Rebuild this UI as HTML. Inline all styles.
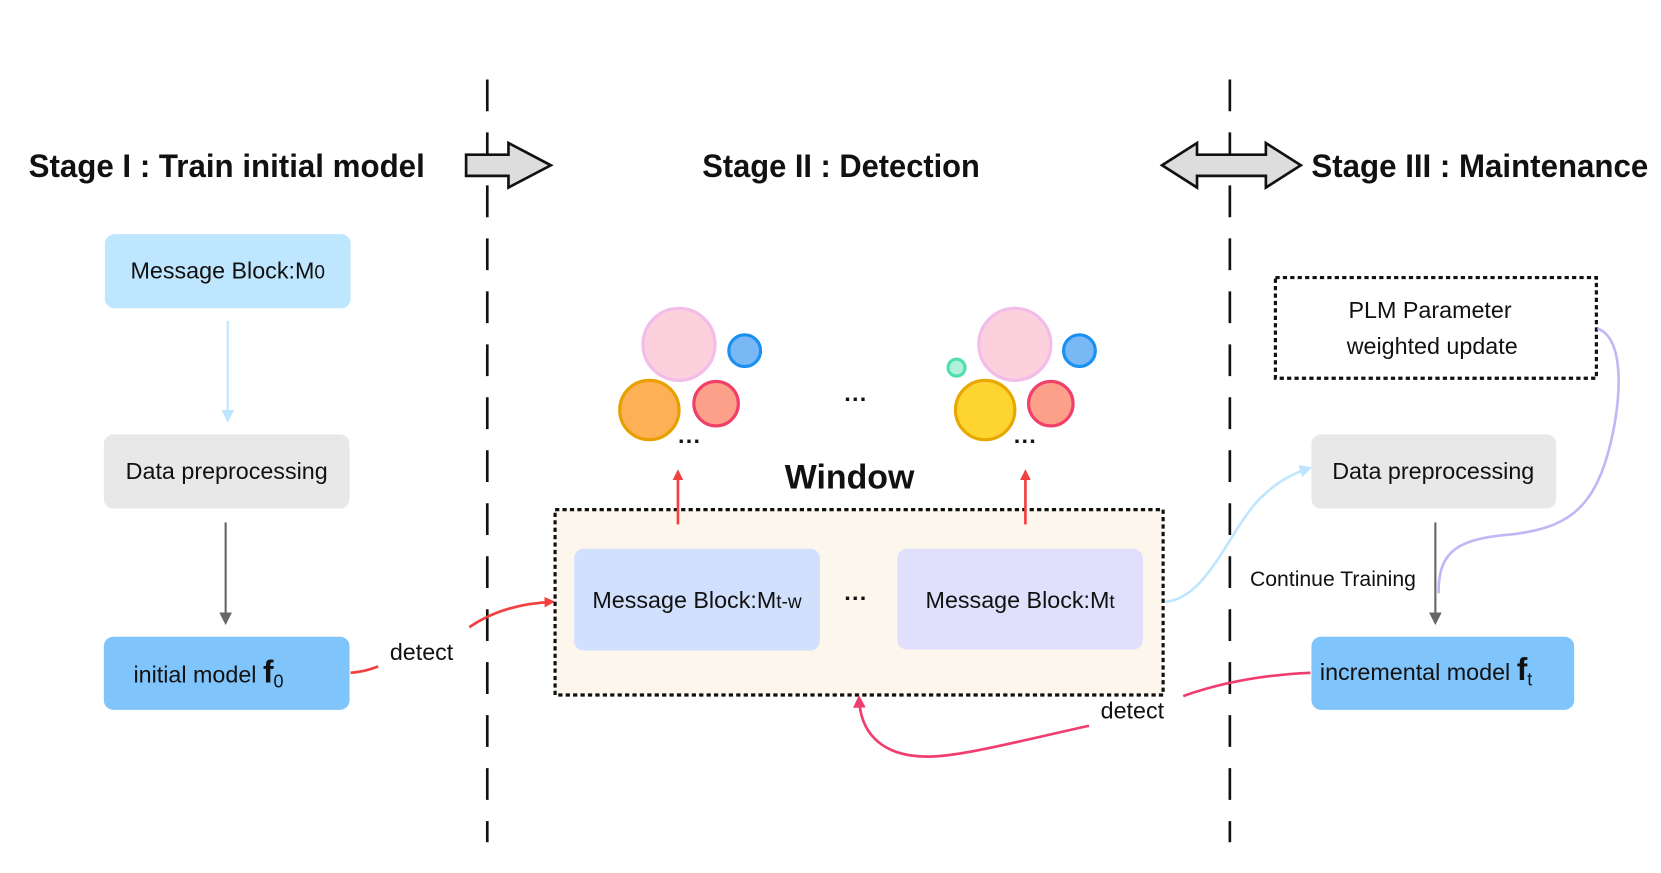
<!DOCTYPE html>
<html><head><meta charset="utf-8"><style>
html,body{margin:0;padding:0;background:#fff;}
svg{display:block;}
text{font-family:"Liberation Sans",sans-serif;fill:#111;}
</style></head><body>
<svg width="1661" height="873" viewBox="0 0 1568 824" preserveAspectRatio="none" xmlns="http://www.w3.org/2000/svg">
<defs>
<marker id="ar" markerWidth="10" markerHeight="10" refX="8" refY="5" orient="auto" markerUnits="userSpaceOnUse"><path d="M0,0 L10,5 L0,10 z" fill="#f04040"/></marker>
<marker id="ap" markerWidth="12" markerHeight="12" refX="9" refY="6" orient="auto" markerUnits="userSpaceOnUse"><path d="M0,0 L12,6 L0,12 z" fill="#f03c6e"/></marker>
<marker id="ag" markerWidth="12" markerHeight="12" refX="9" refY="6" orient="auto" markerUnits="userSpaceOnUse"><path d="M0,0 L12,6 L0,12 z" fill="#666"/></marker>
<marker id="ab" markerWidth="12" markerHeight="12" refX="9" refY="6" orient="auto" markerUnits="userSpaceOnUse"><path d="M0,0 L12,6 L0,12 z" fill="#bfe6ff"/></marker>
</defs>
<line x1="460" y1="75" x2="460" y2="795" stroke="#111" stroke-width="2.5" stroke-dasharray="30,20"/>
<line x1="1161" y1="75" x2="1161" y2="795" stroke="#111" stroke-width="2.5" stroke-dasharray="30,20"/>
<g font-size="31" font-weight="bold">
<text x="27" y="167" textLength="374" lengthAdjust="spacingAndGlyphs">Stage I : Train initial model</text>
<text x="663" y="167" textLength="262" lengthAdjust="spacingAndGlyphs">Stage II : Detection</text>
<text x="1238" y="167" textLength="318" lengthAdjust="spacingAndGlyphs">Stage III : Maintenance</text>
</g>
<path d="M440,146 L480,146 L480,135 L520,156 L480,177 L480,166 L440,166 z" fill="#ddd" stroke="#111" stroke-width="2.5"/>
<path d="M1097,156 L1130,135 L1130,146 L1195,146 L1195,135 L1228,156 L1195,177 L1195,166 L1130,166 L1130,177 z" fill="#ddd" stroke="#111" stroke-width="2.5"/>
<!-- stage I -->
<rect x="99" y="221" width="232" height="70" rx="9" fill="#bfe6ff"/>
<text x="215" y="263" font-size="22" text-anchor="middle">Message Block:M<tspan font-size="18">0</tspan></text>
<line x1="215" y1="303" x2="215" y2="396" stroke="#bfe6ff" stroke-width="2" marker-end="url(#ab)"/>
<rect x="98" y="410" width="232" height="70" rx="9" fill="#e8e8e8"/>
<text x="214" y="452" font-size="22" text-anchor="middle">Data preprocessing</text>
<line x1="213" y1="493" x2="213" y2="587" stroke="#666" stroke-width="2" marker-end="url(#ag)"/>
<rect x="98" y="601" width="232" height="69" rx="9" fill="#7fc4fb"/>
<text x="126" y="644" font-size="22">initial model <tspan font-size="30" font-weight="bold">f</tspan><tspan font-size="17" dy="5">0</tspan></text>
<path d="M331,635 Q345,634 357,629" fill="none" stroke="#f04040" stroke-width="2.5"/>
<text x="368" y="623" font-size="22">detect</text>
<path d="M443,592 Q475,570 522,568" fill="none" stroke="#f04040" stroke-width="2.5" marker-end="url(#ar)"/>
<!-- window -->
<rect x="524" y="481" width="574" height="175" fill="#fdf6ec" stroke="#111" stroke-width="3" stroke-dasharray="4,3"/>
<rect x="542" y="518" width="232" height="96" rx="9" fill="#d1e0fc"/>
<text x="658" y="574" font-size="22" text-anchor="middle">Message Block:M<tspan font-size="18">t-w</tspan></text>
<rect x="847" y="518" width="232" height="95" rx="9" fill="#e0e0fc"/>
<text x="963" y="574" font-size="22" text-anchor="middle">Message Block:M<tspan font-size="18">t</tspan></text>
<text x="808" y="572" font-size="22" font-weight="bold" text-anchor="middle">···</text>
<text x="802" y="461" font-size="32" font-weight="bold" text-anchor="middle">Window</text>
<line x1="640" y1="495" x2="640" y2="445" stroke="#f04040" stroke-width="2.5" marker-end="url(#ar)"/>
<line x1="968" y1="495" x2="968" y2="445" stroke="#f04040" stroke-width="2.5" marker-end="url(#ar)"/>
<!-- circles -->
<g stroke-width="3">
<circle cx="641" cy="325" r="34" fill="#fcd0dc" stroke="#f2bde8"/>
<circle cx="703" cy="331" r="15" fill="#7ab8f5" stroke="#1a90f0"/>
<circle cx="613" cy="387" r="28" fill="#fdb055" stroke="#e8a000"/>
<circle cx="676" cy="381" r="21" fill="#fda08a" stroke="#f0406a"/>
<circle cx="958" cy="325" r="34" fill="#fcd0dc" stroke="#f2bde8"/>
<circle cx="1019" cy="331" r="15" fill="#7ab8f5" stroke="#1a90f0"/>
<circle cx="930" cy="387" r="28" fill="#fed530" stroke="#e8a800"/>
<circle cx="992" cy="381" r="21" fill="#fda08a" stroke="#f0406a"/>
<circle cx="903" cy="347" r="8" fill="#b0f0dc" stroke="#50e0b0"/>
</g>
<text x="651" y="424" font-size="22" font-weight="bold" text-anchor="middle">···</text>
<text x="968" y="424" font-size="22" font-weight="bold" text-anchor="middle">···</text>
<text x="808" y="384" font-size="22" font-weight="bold" text-anchor="middle">···</text>
<!-- stage III -->
<rect x="1204" y="262" width="303" height="95" fill="#fff" stroke="#111" stroke-width="3" stroke-dasharray="4,3"/>
<text x="1350" y="300" font-size="22" text-anchor="middle">PLM Parameter</text>
<text x="1352" y="334" font-size="22" text-anchor="middle">weighted update</text>
<rect x="1238" y="410" width="231" height="70" rx="9" fill="#e8e8e8"/>
<text x="1353" y="452" font-size="22" text-anchor="middle">Data preprocessing</text>
<line x1="1355" y1="493" x2="1355" y2="587" stroke="#666" stroke-width="2" marker-end="url(#ag)"/>
<text x="1180" y="553" font-size="20">Continue Training</text>
<rect x="1238" y="601" width="248" height="69" rx="9" fill="#7fc4fb"/>
<text x="1246" y="642" font-size="22">incremental model <tspan font-size="30" font-weight="bold">f</tspan><tspan font-size="17" dy="5">t</tspan></text>
<path d="M1508,310 C1535,320 1530,380 1520,420 C1505,480 1480,500 1420,505 C1370,510 1358,525 1358,560" fill="none" stroke="#c0b8f5" stroke-width="2.5"/>
<path d="M1100,568 C1140,565 1160,500 1190,470 C1205,455 1220,447 1236,442" fill="none" stroke="#bfe6ff" stroke-width="2.5" marker-end="url(#ab)"/>
<path d="M1237,635 Q1170,638 1117,657" fill="none" stroke="#f03c6e" stroke-width="2.5"/>
<text x="1039" y="678" font-size="22">detect</text>
<path d="M1028,685 C960,700 900,716 870,714 C830,712 812,690 811,659" fill="none" stroke="#f03c6e" stroke-width="2.5" marker-end="url(#ap)"/>
</svg>
</body></html>
